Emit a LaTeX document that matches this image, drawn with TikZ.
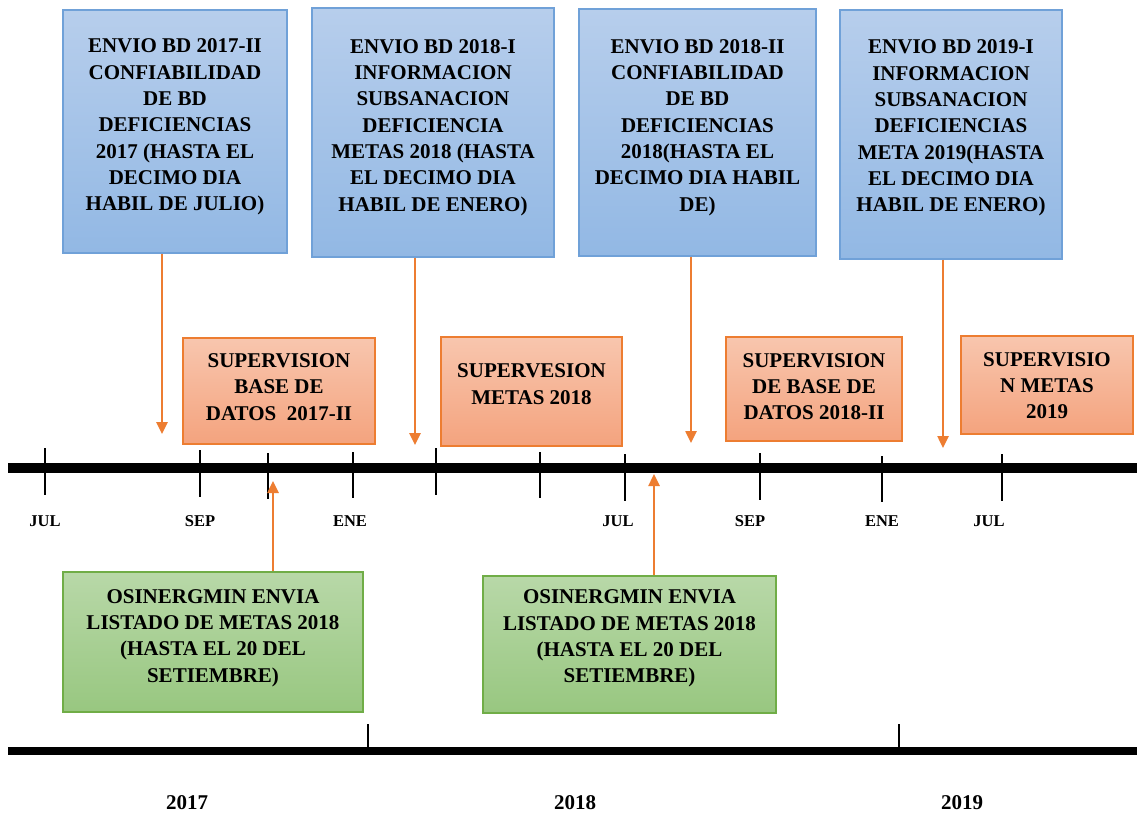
\documentclass[tikz,border=0pt]{standalone}
\usepackage{fontspec}
\setmainfont{Liberation Serif}
\usetikzlibrary{arrows.meta}
\definecolor{blueT}{RGB}{183,206,236}
\definecolor{blueD}{RGB}{146,184,228}
\definecolor{blueB}{RGB}{112,161,216}
\definecolor{oraT}{RGB}{248,198,174}
\definecolor{oraD}{RGB}{244,163,126}
\definecolor{oraB}{RGB}{237,125,49}
\definecolor{greT}{RGB}{184,216,168}
\definecolor{greD}{RGB}{152,199,128}
\definecolor{greB}{RGB}{112,173,71}
\definecolor{arrC}{RGB}{237,125,49}
\newcommand{\boxfont}{\fontsize{21}{26.3}\selectfont\bfseries}
\newcommand{\monthfont}{\fontsize{16.5}{20}\selectfont\bfseries}
\newcommand{\yearfont}{\fontsize{21}{24}\selectfont\bfseries}
\tikzset{
  boxtxt/.style={align=center, font=\boxfont, inner sep=0pt, yshift=-2pt},
  bluebox/.style={draw=blueB, line width=1.2pt, top color=blueT, bottom color=blueD, inner sep=0pt},
  orabox/.style={draw=oraB, line width=1.2pt, top color=oraT, bottom color=oraD, inner sep=0pt},
  grebox/.style={draw=greB, line width=1.2pt, top color=greT, bottom color=greD, inner sep=0pt},
  arr/.style={draw=arrC, line width=2.5pt, -{Triangle[width=11pt,length=12pt]}},
  axisline/.style={line width=10pt, black},
  axisline2/.style={line width=8pt, black},
  tickline/.style={line width=2.8pt, black},
  tickline2/.style={line width=2pt, black},
  monthlbl/.style={font=\monthfont, inner sep=0pt},
  yearlbl/.style={font=\yearfont, inner sep=0pt}
}
\begin{document}
\begin{tikzpicture}[x=1pt,y=-1pt]
\useasboundingbox[fill=white] (0,0) rectangle (1137,814);

% ---- blue boxes
\node[bluebox, minimum width=224pt, minimum height=243pt] (b1) at (175,131.5) {};
\node[boxtxt] (tb1) at (175,125) {ENVIO BD 2017-II\\CONFIABILIDAD\\DE BD\\DEFICIENCIAS\\2017 (HASTA EL\\DECIMO DIA\\HABIL DE JULIO)};
\node[bluebox, minimum width=242pt, minimum height=249pt] (b2) at (433,132.5) {};
\node[boxtxt] (tb2) at (433,125.5) {ENVIO BD 2018-I\\INFORMACION\\SUBSANACION\\DEFICIENCIA\\METAS 2018 (HASTA\\EL DECIMO DIA\\HABIL DE ENERO)};
\node[bluebox, minimum width=237pt, minimum height=247pt] (b3) at (697.5,132.5) {};
\node[boxtxt] (tb3) at (697.5,125.5) {ENVIO BD 2018-II\\CONFIABILIDAD\\DE BD\\DEFICIENCIAS\\2018(HASTA EL\\DECIMO DIA HABIL\\DE)};
\node[bluebox, minimum width=222pt, minimum height=249pt] (b4) at (951,134.5) {};
\node[boxtxt] (tb4) at (951,126) {ENVIO BD 2019-I\\INFORMACION\\SUBSANACION\\DEFICIENCIAS\\META 2019(HASTA\\EL DECIMO DIA\\HABIL DE ENERO)};

% ---- orange boxes
\node[orabox, minimum width=192pt, minimum height=106pt] (o1) at (279,391) {};
\node[boxtxt] (to1) at (279,385) {SUPERVISION\\BASE DE\\DATOS\ \ 2017-II};
\node[orabox, minimum width=181pt, minimum height=109pt] (o2) at (531.5,391.5) {};
\node[boxtxt] (to2) at (531.5,382) {SUPERVESION\\METAS 2018};
\node[orabox, minimum width=176pt, minimum height=104pt] (o3) at (814,389) {};
\node[boxtxt] (to3) at (814,384.5) {SUPERVISION\\DE BASE DE\\DATOS 2018-II};
\node[orabox, minimum width=172pt, minimum height=98pt] (o4) at (1047,385) {};
\node[boxtxt] (to4) at (1047,383.5) {SUPERVISIO\\N METAS\\2019};

% ---- green boxes
\node[grebox, minimum width=300pt, minimum height=140pt] (g1) at (213,642) {};
\node[boxtxt] (tg1) at (213,636) {OSINERGMIN ENVIA\\LISTADO DE METAS 2018\\(HASTA EL 20 DEL\\SETIEMBRE)};
\node[grebox, minimum width=293pt, minimum height=137pt] (g2) at (629.5,644.5) {};
\node[boxtxt] (tg2) at (629.5,636.5) {OSINERGMIN ENVIA\\LISTADO DE METAS 2018\\(HASTA EL 20 DEL\\SETIEMBRE)};

% ---- main axis
\coordinate (axL) at (8,468);
\coordinate (axR) at (1137,468);
\draw[axisline] (axL) -- (axR);
\draw[tickline] (45,448) -- (45,495);
\draw[tickline] (200,450) -- (200,497);
\draw[tickline] (268,453) -- (268,499);
\draw[tickline] (353,452) -- (353,498);
\draw[tickline] (436,448) -- (436,495);
\draw[tickline] (540,452) -- (540,498);
\draw[tickline] (625,454) -- (625,501);
\draw[tickline] (760,453) -- (760,500);
\draw[tickline] (882,456) -- (882,502);
\draw[tickline] (1002,454) -- (1002,501);

\node[monthlbl] (m1) at (45,521) {JUL};
\node[monthlbl] (m2) at (200,521) {SEP};
\node[monthlbl] (m3) at (350,521) {ENE};
\node[monthlbl] (m4) at (618,521) {JUL};
\node[monthlbl] (m5) at (750,521) {SEP};
\node[monthlbl] (m6) at (882,521) {ENE};
\node[monthlbl] (m7) at (989,521) {JUL};

% ---- year axis
\coordinate (ayL) at (8,751);
\coordinate (ayR) at (1137,751);
\draw[axisline2] (ayL) -- (ayR);
\draw[tickline2] (368,724) -- (368,751);
\draw[tickline2] (899,724) -- (899,751);
\node[yearlbl] (y1) at (187,803) {2017};
\node[yearlbl] (y2) at (575,803) {2018};
\node[yearlbl] (y3) at (962,803) {2019};

% ---- arrows
\coordinate (a1) at (162,434);
\coordinate (a2) at (415,445);
\coordinate (a3) at (691,443);
\coordinate (a4) at (943,448);
\draw[arr] (a1 |- b1.south) -- (a1);
\draw[arr] (a2 |- b2.south) -- (a2);
\draw[arr] (a3 |- b3.south) -- (a3);
\draw[arr] (a4 |- b4.south) -- (a4);
\coordinate (u1) at (273,481);
\coordinate (u2) at (654,474);
\draw[arr] (u1 |- g1.north) -- (u1);
\draw[arr] (u2 |- g2.north) -- (u2);
\end{tikzpicture}
\end{document}
